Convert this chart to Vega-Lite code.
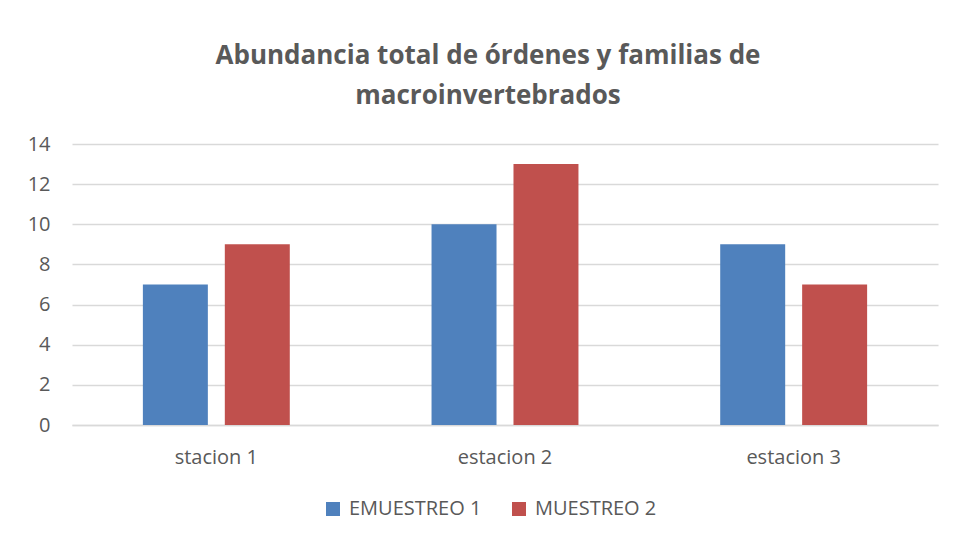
{
  "$schema": "https://vega.github.io/schema/vega-lite/v6.json",
  "width": 866,
  "height": 281,
  "autosize": "none",
  "padding": {"left": 72, "top": 144, "right": 18, "bottom": 114},
  "background": "white",
  "title": {
    "text": ["Abundancia total de órdenes y familias de", "macroinvertebrados"],
    "font": "Open Sans",
    "fontSize": 26,
    "fontWeight": "bold",
    "color": "#595959",
    "lineHeight": 40,
    "offset": 25,
    "dx": -17,
    "anchor": "middle"
  },
  "data": {
    "values": [
      {"estacion": "stacion 1", "muestreo": "EMUESTREO 1", "valor": 7},
      {"estacion": "stacion 1", "muestreo": "MUESTREO 2", "valor": 9},
      {"estacion": "estacion 2", "muestreo": "EMUESTREO 1", "valor": 10},
      {"estacion": "estacion 2", "muestreo": "MUESTREO 2", "valor": 13},
      {"estacion": "estacion 3", "muestreo": "EMUESTREO 1", "valor": 9},
      {"estacion": "estacion 3", "muestreo": "MUESTREO 2", "valor": 7}
    ]
  },
  "mark": {"type": "bar"},
  "encoding": {
    "x": {
      "field": "estacion",
      "type": "nominal",
      "sort": ["stacion 1", "estacion 2", "estacion 3"],
      "scale": {"paddingInner": 0, "paddingOuter": 0},
      "axis": {
        "title": null,
        "labelAngle": 0,
        "labelFont": "Open Sans",
        "labelFontSize": 20,
        "labelColor": "#595959",
        "labelPadding": 22,
        "ticks": false,
        "domainColor": "#d9d9d9",
        "domainWidth": 1.5
      }
    },
    "xOffset": {
      "field": "muestreo",
      "type": "nominal",
      "scale": {"paddingInner": 0.207, "paddingOuter": 0.865}
    },
    "y": {
      "field": "valor",
      "type": "quantitative",
      "scale": {"domain": [0, 14]},
      "axis": {
        "title": null,
        "values": [0, 2, 4, 6, 8, 10, 12, 14],
        "labelFont": "Open Sans",
        "labelFontSize": 20,
        "labelColor": "#595959",
        "labelPadding": 22,
        "ticks": false,
        "domain": false,
        "gridColor": "#d9d9d9",
        "gridWidth": 1.5
      }
    },
    "color": {
      "field": "muestreo",
      "type": "nominal",
      "scale": {"domain": ["EMUESTREO 1", "MUESTREO 2"], "range": ["#4f81bd", "#c0504d"]},
      "legend": {
        "title": null,
        "orient": "none",
        "direction": "horizontal",
        "legendX": 251,
        "legendY": 355,
        "symbolType": "square",
        "symbolSize": 196,
        "symbolStrokeWidth": 0,
        "labelFont": "Open Sans",
        "labelFontSize": 20,
        "labelColor": "#595959",
        "columnPadding": 27,
        "labelOffset": 6
      }
    }
  },
  "config": {"view": {"stroke": null}}
}
